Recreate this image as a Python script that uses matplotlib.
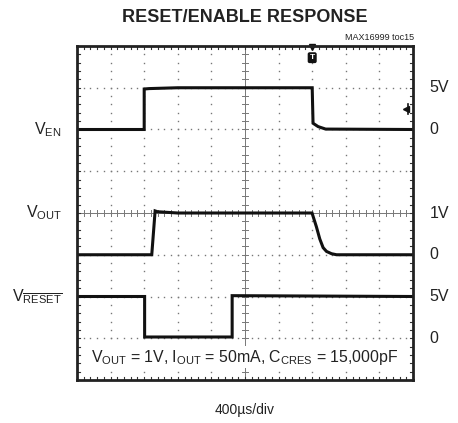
import matplotlib
matplotlib.use("Agg")
import matplotlib.pyplot as plt
import numpy as np

plt.rcParams['font.family'] = ['Liberation Sans', 'DejaVu Sans']
plt.rcParams['mathtext.fontset'] = 'custom'
plt.rcParams['mathtext.rm'] = 'Liberation Sans'
plt.rcParams['mathtext.it'] = 'Liberation Sans'

# ---- data (time in µs, 400 µs/div) ----
ven_t = [0, 800, 800, 860, 1200, 2790, 2800, 2810, 2870, 2960, 4000]
ven_v = [0.0, 0.0, 4.85, 4.9, 5.0, 5.0, 5.0, 0.75, 0.35, 0.05, 0.0]

vout_t = [0, 890, 930, 960, 1200, 2798, 2850, 2890, 2930, 2970, 3030, 3090, 4000]
vout_v = [0.0, 0.0, 1.05, 1.03, 1.0, 1.0, 0.67, 0.38, 0.17, 0.08, 0.025, 0.0, 0.0]

vres_t = [0, 805, 805, 1847, 1847, 4000]
vres_v = [5.0, 5.0, 0.15, 0.15, 5.1, 5.0]

# channel scaling: (volts per div, zero level in divisions from bottom)
ven_scale, ven_zero = 5.0, 6
vout_scale, vout_zero = 1.0, 3
vres_scale, vres_zero = 5.0, 1
time_per_div = 400.0

left_labels = [(r"V$_\mathrm{EN}$", 6), (r"V$_\mathrm{OUT}$", 4), (r"V$_{\overline{\mathrm{RESET}}}$", 2)]
right_labels = [("5V", 7), ("0", 6), ("1V", 4), ("0", 3), ("5V", 2), ("0", 1)]

fig = plt.figure(figsize=(4.58, 4.23), dpi=100)
ax = fig.add_axes([77/458, 1-380/423, (413-77)/458, (380-46)/423])
ax.set_xlim(0, 10)
ax.set_ylim(0, 8)
ax.set_xticks([]); ax.set_yticks([])
for s in ax.spines.values():
    s.set_linewidth(2.0)
    s.set_color('#222222')

gray = '#777777'
minor = np.arange(0, 10.001, 0.2)
minor_y = np.arange(0, 8.001, 0.2)
# dotted grid
for gx in range(1, 10):
    if gx == 5:
        continue
    ys = minor_y[1:-1]
    ax.plot([gx]*len(ys), ys, ls='none', marker='s', ms=1.0, color=gray, mec='none')
for gy in range(1, 8):
    if gy == 4:
        continue
    xs = minor[1:-1]
    ax.plot(xs, [gy]*len(xs), ls='none', marker='s', ms=1.0, color=gray, mec='none')
# center axes with ticks
ax.plot([5, 5], [0, 8], color=gray, lw=0.7)
ax.plot([0, 10], [4, 4], color=gray, lw=0.7)
tl_x = 0.1
tl_y = 0.08
for yy in minor_y:
    ax.plot([5-tl_x, 5+tl_x], [yy, yy], color=gray, lw=0.7)
    ax.plot([0, tl_x], [yy, yy], color='#333333', lw=0.8)
    ax.plot([10-tl_x, 10], [yy, yy], color='#333333', lw=0.8)
for xx in minor:
    ax.plot([xx, xx], [4-tl_y, 4+tl_y], color=gray, lw=0.7)
    ax.plot([xx, xx], [0, tl_y], color='#333333', lw=0.8)
    ax.plot([xx, xx], [8-tl_y, 8], color='#333333', lw=0.8)

def to_div(t, v, scale, zero):
    return np.array(t)/time_per_div, np.array(v)/scale + zero

for t, v, sc, z in [(ven_t, ven_v, ven_scale, ven_zero),
                    (vout_t, vout_v, vout_scale, vout_zero),
                    (vres_t, vres_v, vres_scale, vres_zero)]:
    x, y = to_div(t, v, sc, z)
    ax.plot(x, y, color='#111111', lw=2.2, solid_joinstyle='miter')

# trigger marker
ax.text(7, 7.72, "T", ha='center', va='center', color='white', fontsize=6, fontweight='bold',
        bbox=dict(boxstyle='round,pad=0.15', fc='#111111', ec='#111111'))
ax.plot([7], [7.97], marker='v', ms=4, color='#111111', clip_on=False)
# level marker
ax.plot([9.78], [6.49], marker='<', ms=4.5, color='#111111')
ax.plot([9.85, 9.85], [6.38, 6.6], color='#111111', lw=1.2)

ax.text(5, 0.55, r"V$_\mathrm{OUT}$ = 1V, I$_\mathrm{OUT}$ = 50mA, C$_\mathrm{CRES}$ = 15,000pF",
        ha='center', va='center', fontsize=11.4, color='#222222',
        bbox=dict(fc='white', ec='none', pad=1))

for lab, yv in left_labels:
    ax.text(-0.45, yv, lab, ha='right', va='center', fontsize=11.5, color='#222222',
            transform=ax.transData, clip_on=False)
for lab, yv in right_labels:
    ax.text(10.5, yv, lab, ha='left', va='center', fontsize=11.5, color='#222222', clip_on=False)

fig.text(245/458, 1-17/423, "RESET/ENABLE RESPONSE", ha='center', va='center',
         fontsize=13, fontweight='bold', color='#222222')
fig.text(414/458, 1-38/423, "MAX16999 toc15", ha='right', va='center', fontsize=6.5, color='#222222')
fig.text(245/458, 1-410/423, "400µs/div", ha='center', va='center', fontsize=10, color='#222222')

fig.savefig("out.png", dpi=100)
